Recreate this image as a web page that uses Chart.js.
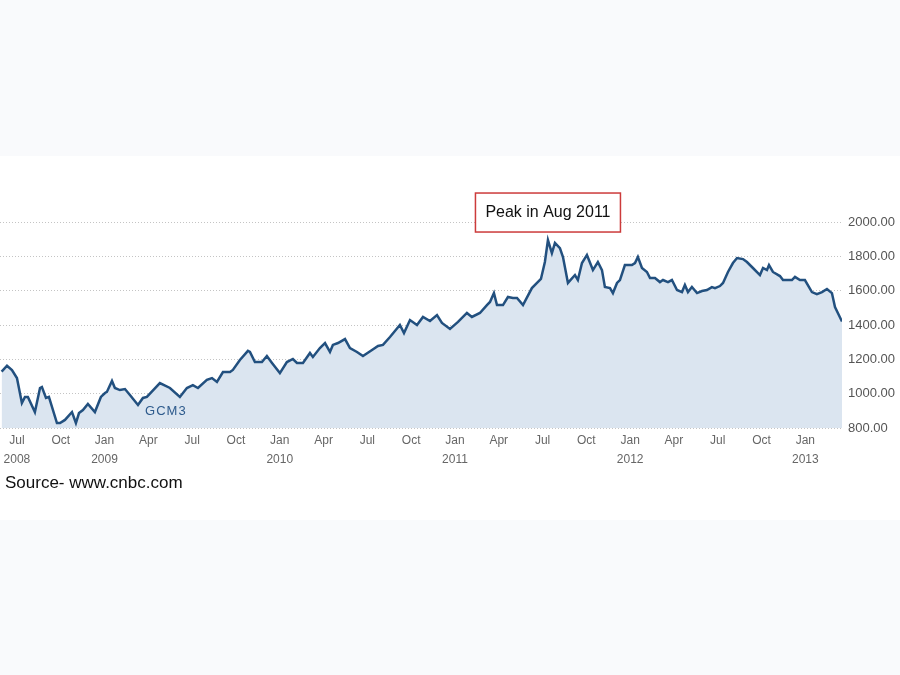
<!DOCTYPE html>
<html>
<head>
<meta charset="utf-8">
<script src="https://cdn.jsdelivr.net/npm/chart.js@4/dist/chart.umd.min.js"></script>
<style>
  body { margin: 0; background: #f9fafc; }
  #band { position: absolute; left: 0; top: 156px; width: 900px; height: 364px; background: #ffffff; }
  #wrap { position: absolute; left: 0; top: 0; width: 900px; height: 675px; }
  #source { position: absolute; left: 5px; top: 473px; font: 17px "Liberation Sans", Arial, sans-serif; color: #111; }
</style>
</head>
<body>
<div id="band"></div>
<div id="wrap"><canvas id="goldChart" width="900" height="675"></canvas></div>
<div id="source">Source- www.cnbc.com</div>
<script>
// months since Jul 2008 (0 = Jul 2008)
const months = [
  -1.05, -0.68, -0.34, 0, 0.34, 0.55, 0.75, 1.23, 1.58, 1.71, 1.99, 2.19, 2.74, 2.95, 3.29, 3.77,
  4.04, 4.25, 4.52, 4.86, 5.34, 5.75, 6.03, 6.16, 6.51, 6.71, 7.05, 7.40, 7.74, 8.29, 8.63, 8.90,
  9.79, 10.48, 11.16, 11.64, 12.05, 12.40, 13.01, 13.36, 13.70, 14.11, 14.59, 14.79, 15.27, 15.82,
  15.96, 16.30, 16.78, 17.12, 17.47, 18.01, 18.49, 18.90, 19.18, 19.59, 20.07, 20.27, 20.75, 21.10,
  21.44, 21.64, 21.99, 22.47, 22.81, 23.29, 23.70, 24.32, 24.73, 25.07, 25.55, 26.23, 26.51, 26.92,
  27.40, 27.81, 28.29, 28.77, 29.11, 29.66, 30.21, 30.82, 31.16, 31.71, 32.19, 32.40, 32.67, 32.88,
  33.29, 33.63, 33.97, 34.25, 34.66, 35.27, 35.62, 35.89, 36.16, 36.37, 36.64, 36.85, 37.19, 37.40,
  37.74, 38.22, 38.42, 38.70, 39.04, 39.45, 39.79, 40.07, 40.27, 40.62, 40.82, 41.10, 41.30, 41.64,
  42.12, 42.33, 42.53, 42.81, 43.15, 43.36, 43.70, 44.04, 44.25, 44.59, 44.86, 45.21, 45.55, 45.75,
  45.96, 46.23, 46.58, 46.92, 47.26, 47.60, 47.81, 48.15, 48.36, 48.70, 49.04, 49.32, 49.73, 50.00,
  50.41, 50.89, 51.10, 51.37, 51.51, 51.78, 52.26, 52.47, 53.08, 53.29, 53.63, 53.97, 54.45, 54.79,
  55.14, 55.48, 55.82, 56.03, 56.51
];
// GCM3 gold futures price
const prices = [
  1128, 1163, 1138, 1091, 946, 981, 981, 893, 1033, 1039, 975, 981, 829, 829, 847, 893,
  829, 887, 905, 940, 893, 981, 1004, 1010, 1074, 1033, 1021, 1027, 992, 934, 975, 981,
  1062, 1033, 981, 1033, 1050, 1033, 1080, 1091, 1068, 1126, 1126, 1138, 1196, 1249,
  1243, 1184, 1184, 1219, 1179, 1120, 1184, 1202, 1179, 1179, 1237, 1214, 1266, 1295,
  1243, 1284, 1295, 1318, 1266, 1243, 1219, 1254, 1278, 1284, 1330, 1400, 1353, 1429,
  1400, 1447, 1423, 1458, 1412, 1377, 1418, 1470, 1447, 1470, 1516, 1534, 1586, 1516,
  1516, 1563, 1557, 1557, 1516, 1615, 1645, 1668, 1767, 1895, 1819, 1878, 1848, 1796,
  1645, 1691, 1662, 1761, 1808, 1720, 1767, 1720, 1621, 1615, 1586, 1645, 1662, 1749,
  1749, 1761, 1796, 1732, 1709, 1674, 1674, 1650, 1662, 1650, 1662, 1604, 1592, 1633,
  1592, 1621, 1586, 1598, 1604, 1621, 1615, 1627, 1645, 1709, 1761, 1790, 1784, 1767,
  1732, 1691, 1732, 1720, 1749, 1709, 1685, 1662, 1662, 1680, 1662, 1662, 1592, 1580,
  1592, 1610, 1586, 1505, 1420
];
const tickMonths = [0, 3, 6, 9, 12, 15, 18, 21, 24, 27, 30, 33, 36, 39, 42, 45, 48, 51, 54];
const tickLabels = [
  ["Jul", "2008"], "Oct", ["Jan", "2009"], "Apr", "Jul", "Oct", ["Jan", "2010"], "Apr", "Jul", "Oct",
  ["Jan", "2011"], "Apr", "Jul", "Oct", ["Jan", "2012"], "Apr", "Jul", "Oct", ["Jan", "2013"]
];
const peakText = "Peak in Aug 2011";
const seriesName = "GCM3";

// vẽ hộp chú thích đỉnh giá và tên series
const notesPlugin = {
  id: "notes",
  afterDatasetsDraw(chart) {
    const ctx = chart.ctx;
    const xs = chart.scales.x, ys = chart.scales.y;
    let iMax = 0;
    prices.forEach((p, i) => { if (p > prices[iMax]) iMax = i; });
    const px = xs.getPixelForValue(months[iMax]);
    const py = ys.getPixelForValue(prices[iMax]);
    const w = 145, h = 39;
    ctx.save();
    ctx.fillStyle = "#ffffff";
    ctx.fillRect(px - w / 2, py - 8 - h, w, h);
    ctx.strokeStyle = "#cc3b3b";
    ctx.lineWidth = 1.5;
    ctx.strokeRect(px - w / 2, py - 8 - h, w, h);
    ctx.fillStyle = "#111111";
    ctx.font = "16px 'Liberation Sans', Arial, sans-serif";
    ctx.textAlign = "center";
    ctx.textBaseline = "middle";
    ctx.fillText(peakText, px, py - 8 - h / 2);
    // GCM3
    ctx.fillStyle = "#2d5a8c";
    ctx.font = "13px 'Liberation Sans', Arial, sans-serif";
    ctx.letterSpacing = "1px";
    ctx.fillText(seriesName, xs.getPixelForValue(10.2), ys.getPixelForValue(899));
    ctx.restore();
  }
};

const ctx = document.getElementById("goldChart").getContext("2d");
const myChart = new Chart(ctx, {
  type: "line",
  data: {
    datasets: [
      {
        label: seriesName,
        data: months.map((m, i) => ({ x: m, y: prices[i] })),
        borderColor: "#22507f",
        borderWidth: 2.5,
        backgroundColor: "#dbe5f0",
        fill: "start",
        pointRadius: 0,
        tension: 0,
      },
    ],
  },
  options: {
    responsive: false,
    animation: false,
    layout: { padding: { top: 222, left: 0, right: 0, bottom: 0 } },
    plugins: { legend: { display: false }, tooltip: { enabled: false } },
    scales: {
      x: {
        type: "linear",
        min: -1.16,
        max: 56.51,
        grid: { display: false },
        border: { display: false },
        afterBuildTicks(scale) {
          scale.ticks = tickMonths.map((v) => ({ value: v }));
        },
        afterFit(scale) { scale.height = 247; },
        ticks: {
          autoSkip: false,
          maxRotation: 0,
          padding: -5,
          color: "#666666",
          font: { family: "'Liberation Sans', Arial, sans-serif", size: 12, lineHeight: 1.6 },
          callback: (v, i) => tickLabels[i],
        },
      },
      y: {
        position: "right",
        min: 800,
        max: 2000,
        border: { display: false, dash: [1, 2] },
        grid: { color: "#c4c4c4", drawTicks: false, lineWidth: 1 },
        afterFit(scale) { scale.width = 58; },
        ticks: {
          stepSize: 200,
          padding: 6,
          color: "#555555",
          font: { family: "'Liberation Sans', Arial, sans-serif", size: 13 },
          callback: (v) => v.toFixed(2),
        },
      },
    },
  },
  plugins: [notesPlugin],
});
</script>
</body>
</html>
